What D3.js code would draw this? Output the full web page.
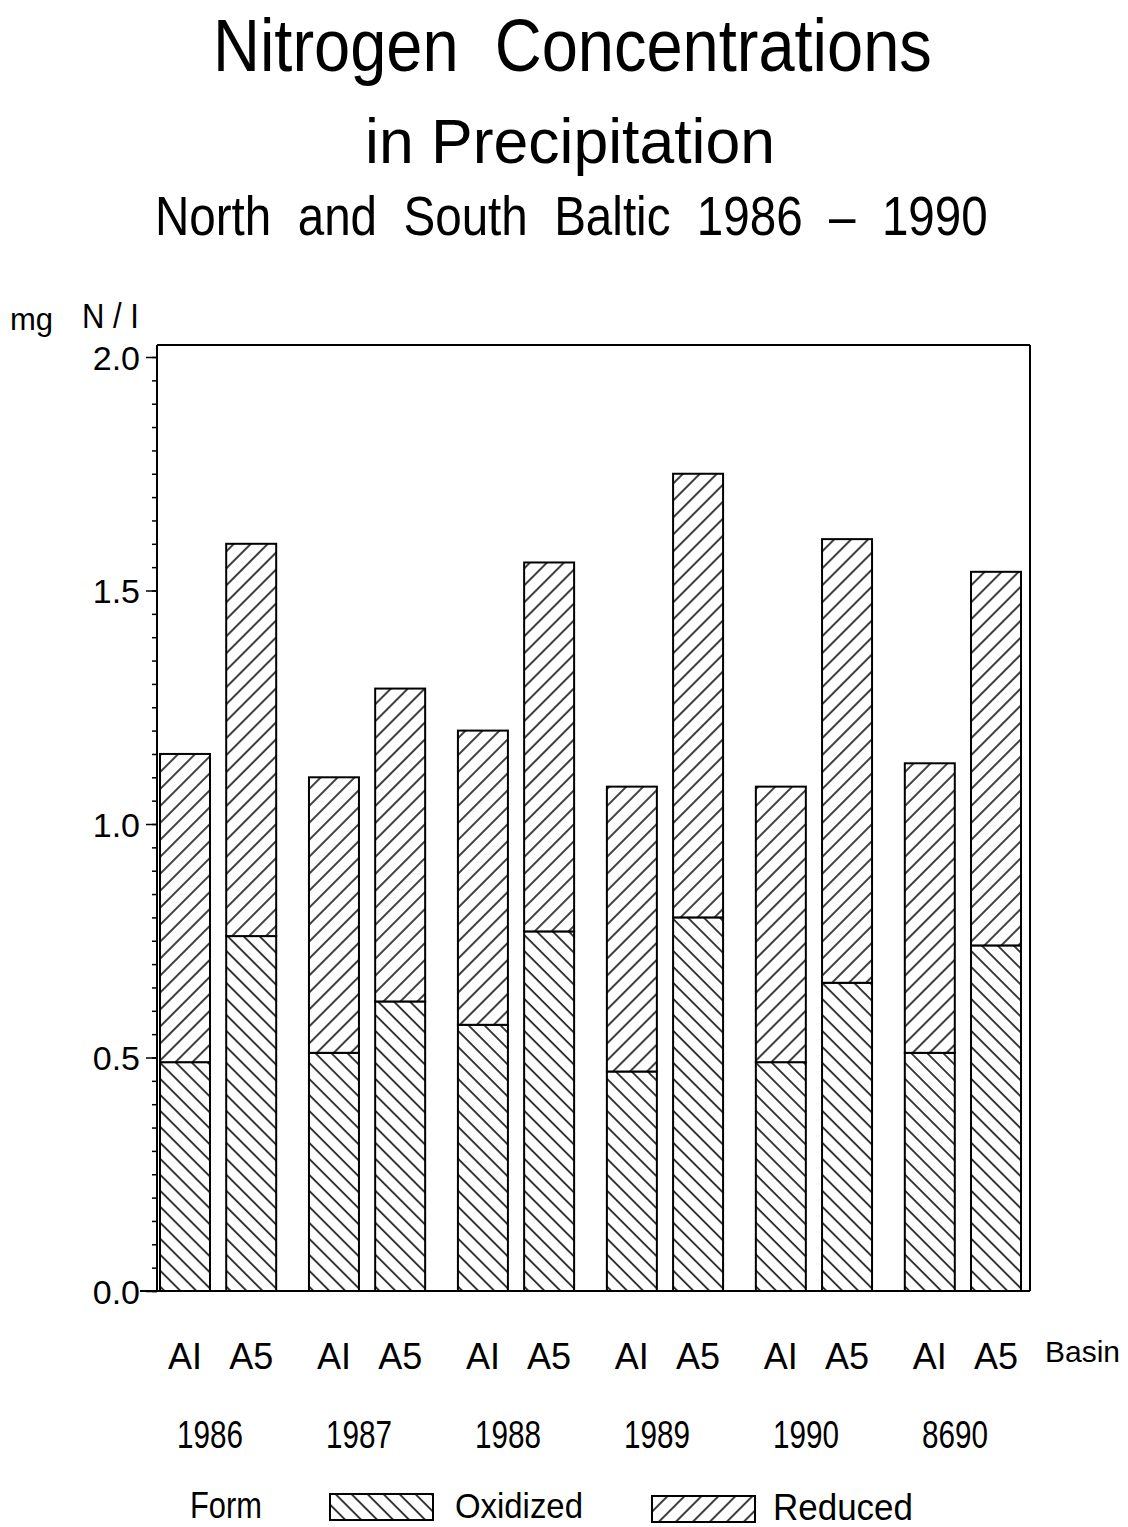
<!DOCTYPE html>
<html lang="en">
    <head>
        <meta charset="utf-8">
        <title>Nitrogen Concentrations in Precipitation</title>
        <script type="text/javascript" src="https://cdn.jsdelivr.net/npm/d3@7/dist/d3.min.js"></script>
        <style>
            body { margin: 0; background: #fff; }
        </style>
    </head>
    <body>
        <script type="text/javascript">

        // -- Data -- //

        const years = ["1986", "1987", "1988", "1989", "1990", "8690"];
        const basins = ["AI", "A5"];
        // mg N/l, one pair [AI, A5] per year
        const oxidized = [[0.49, 0.76], [0.51, 0.62], [0.57, 0.77], [0.47, 0.80], [0.49, 0.66], [0.51, 0.74]];
        const reduced = [[0.66, 0.84], [0.59, 0.67], [0.63, 0.79], [0.61, 0.95], [0.59, 0.95], [0.62, 0.80]];
        const yTicks = [0, 0.5, 1.0, 1.5, 2.0];
        const forms = ["Oxidized", "Reduced"];

        let rows = [];
        years.forEach(function(yr, i) {
            basins.forEach(function(b, j) {
                rows.push({ year: yr, basin: b, ox: oxidized[i][j], red: reduced[i][j] });
            });
        });

        // -- Setting -- //

        let canvasWidth = 1128;
        let canvasHeight = 1527;

        let plotLeft = 157;
        let plotRight = 1030;
        let plotTop = 345;

        const font = "'Liberation Sans', Arial, Helvetica, sans-serif";

        const canvas = d3.select("body")
            .append("svg")
            .attr("width", canvasWidth)
            .attr("height", canvasHeight)
            .style("background", "#fff");

        // squeezed text, the original uses a condensed face
        let label = function(sel, x, y, size, width, str, anchor) {
            let t = sel.append("text")
                .attr("text-anchor", anchor || "start")
                .attr("font-family", font)
                .attr("font-size", size)
                .style("white-space", "pre")
                .text(str);
            let sx = width / t.node().getComputedTextLength();
            t.attr("transform", "translate(" + x + "," + y + ") scale(" + sx + ",1)");
            return t;
        };

        // hatch patterns
        const defs = canvas.append("defs");
        let makeHatch = function(id, angle, gap) {
            let p = defs.append("pattern")
                .attr("id", id)
                .attr("patternUnits", "userSpaceOnUse")
                .attr("width", gap)
                .attr("height", 40)
                .attr("patternTransform", "rotate(" + angle + ")");
            p.append("rect").attr("width", gap).attr("height", 40).attr("fill", "#fff");
            p.append("line")
                .attr("x1", gap / 2).attr("y1", 0)
                .attr("x2", gap / 2).attr("y2", 40)
                .attr("stroke", "#000")
                .attr("stroke-width", 1.5);
        };
        makeHatch("hatch-ox", -45, 11.3);
        makeHatch("hatch-red", 45, 12);

        // -- Scales -- //

        let x0 = d3.scaleBand()
            .domain(years)
            .range([160, 1021])
            .paddingInner(0.22);

        let x1 = d3.scaleBand()
            .domain(basins)
            .range([0, x0.bandwidth()])
            .paddingInner(0.245);

        let y = d3.scaleLinear()
            .domain([0, 2])
            .range([1291, 357]);

        // -- Titles -- //

        label(canvas, 213, 71, 74, 719, "Nitrogen  Concentrations");
        label(canvas, 365, 163, 63, 410, "in Precipitation");
        label(canvas, 155, 235, 56, 833, "North  and  South  Baltic  1986  \u2013  1990");

        // y axis label
        canvas.append("text")
            .attr("x", 10).attr("y", 330)
            .attr("font-family", font)
            .attr("font-size", 31)
            .text("mg");
        label(canvas, 82, 328, 35, 57, "N / I");

        // -- Bars -- //

        let bars = canvas.append("g")
            .selectAll("g")
            .data(rows)
            .join("g")
            .attr("transform", d => "translate(" + (x0(d.year) + x1(d.basin)) + ",0)");

        bars.append("rect")
            .attr("x", 0)
            .attr("width", x1.bandwidth())
            .attr("y", d => y(d.ox))
            .attr("height", d => y(0) - y(d.ox))
            .attr("fill", "url(#hatch-ox)")
            .attr("stroke", "#000")
            .attr("stroke-width", 2);

        bars.append("rect")
            .attr("x", 0)
            .attr("width", x1.bandwidth())
            .attr("y", d => y(d.ox + d.red))
            .attr("height", d => y(d.ox) - y(d.ox + d.red))
            .attr("fill", "url(#hatch-red)")
            .attr("stroke", "#000")
            .attr("stroke-width", 2);

        // -- Frame and axes -- //

        let frame = canvas.append("g")
            .attr("fill", "none")
            .attr("stroke", "#000")
            .attr("stroke-width", 2);
        frame.append("line")
            .attr("x1", plotLeft).attr("y1", plotTop)
            .attr("x2", plotRight).attr("y2", plotTop);
        frame.append("line")
            .attr("x1", plotRight).attr("y1", plotTop)
            .attr("x2", plotRight).attr("y2", y(0));
        frame.append("line")
            .attr("x1", 140).attr("y1", y(0))
            .attr("x2", plotRight).attr("y2", y(0));
        frame.append("line")
            .attr("x1", plotLeft).attr("y1", plotTop)
            .attr("x2", plotLeft).attr("y2", y(0));

        let minorTicks = d3.range(0, 2.0001, 0.05);
        canvas.append("g")
            .attr("transform", "translate(" + plotLeft + ",0)")
            .call(d3.axisLeft(y).tickValues(minorTicks).tickSize(5).tickFormat(""))
            .call(g => g.select(".domain").remove())
            .call(g => g.selectAll("line").attr("stroke-width", 1.5));

        canvas.append("g")
            .attr("transform", "translate(" + plotLeft + ",0)")
            .call(d3.axisLeft(y).tickValues(yTicks).tickSize(11).tickPadding(6).tickFormat(d3.format(".1f")))
            .call(g => g.select(".domain").remove())
            .call(g => g.selectAll("line").attr("stroke-width", 1.5))
            .call(g => g.selectAll("text")
                .attr("font-family", font)
                .attr("font-size", 34)
                .attr("fill", "#000")
                .attr("dy", "0.36em"));

        // basin labels
        canvas.append("g")
            .selectAll("text")
            .data(rows)
            .join("text")
            .attr("x", d => x0(d.year) + x1(d.basin) + x1.bandwidth() / 2)
            .attr("y", 1369)
            .attr("text-anchor", "middle")
            .attr("font-family", font)
            .attr("font-size", 36)
            .text(d => d.basin);

        canvas.append("text")
            .attr("x", 1045).attr("y", 1362)
            .attr("font-family", font)
            .attr("font-size", 30)
            .text("Basin");

        // year labels
        let yearLabels = canvas.append("g");
        years.forEach(function(d) {
            label(yearLabels, x0(d) + x0.bandwidth() / 2 - 8, 1448, 39, 66, d, "middle");
        });

        // -- Legend -- //

        let legend = canvas.append("g");
        label(legend, 190, 1518, 36, 72, "Form");

        let legendX = [330, 652];
        let legendTextX = [455, 773];
        let legendTextW = [128, 140];
        let legendFill = ["url(#hatch-ox)", "url(#hatch-red)"];
        forms.forEach(function(f, i) {
            legend.append("rect")
                .attr("x", legendX[i]).attr("y", 1494 + i * 2)
                .attr("width", 103).attr("height", 26)
                .attr("fill", legendFill[i])
                .attr("stroke", "#000")
                .attr("stroke-width", 2);
            label(legend, legendTextX[i], 1518 + i * 2, 36, legendTextW[i], f);
        });

        </script>
    </body>
</html>
